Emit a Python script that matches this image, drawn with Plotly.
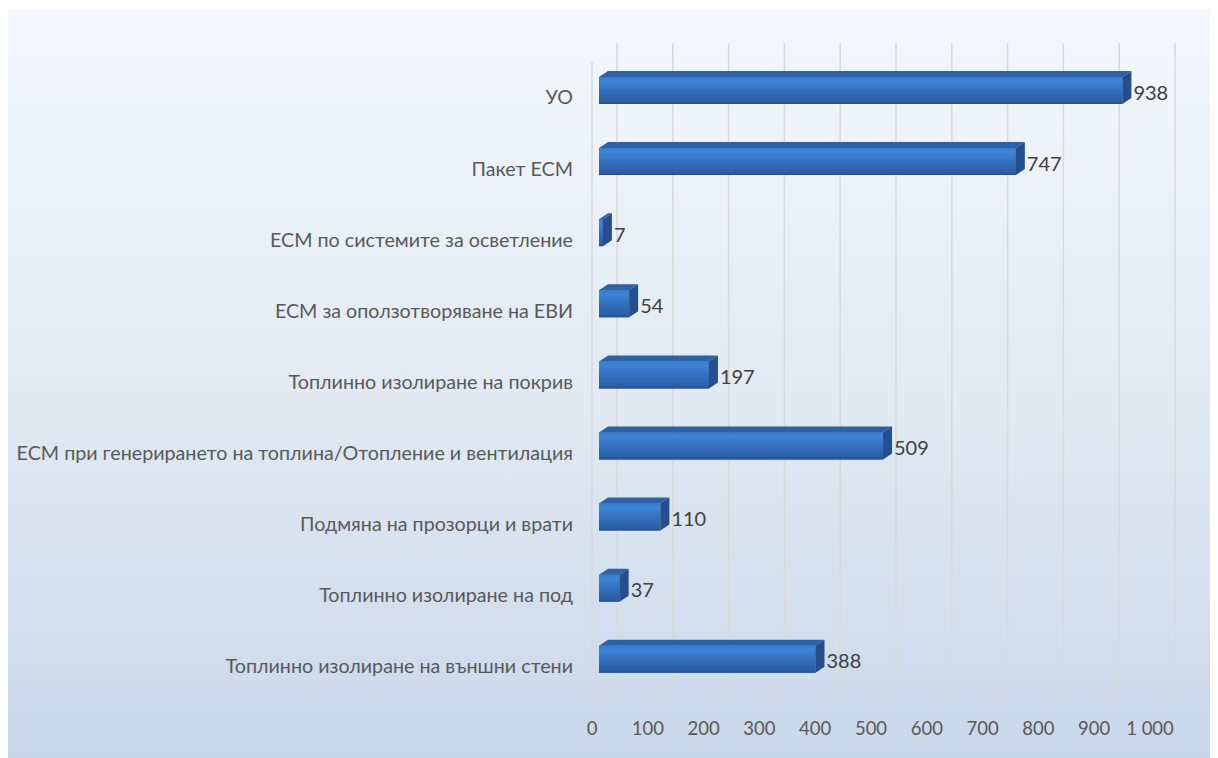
import plotly.graph_objects as go

# ---------------- data ----------------
categories = [
    "Топлинно изолиране на външни стени",
    "Топлинно изолиране на под",
    "Подмяна на прозорци и врати",
    "ЕСМ при генерирането на топлина/Отопление и вентилация",
    "Топлинно изолиране на покрив",
    "ЕСМ за оползотворяване на ЕВИ",
    "ЕСМ по системите за осветление",
    "Пакет ЕСМ",
    "УО",
]
values = [388, 37, 110, 509, 197, 54, 7, 747, 938]
tick_values = [0, 100, 200, 300, 400, 500, 600, 700, 800, 900, 1000]
tick_labels = ["0", "100", "200", "300", "400", "500", "600", "700", "800", "900", "1 000"]

# ---------------- geometry (page pixels, page offset by body margin) ----------------
OFF = 8                # body margin of the page
W, H = 1210, 750
X0_PX = 599.0 - OFF    # pixel of value 0 on bar front face
PX_PER_UNIT = 0.558    # pixels per value unit
TOP_CAT_PX = 90.5 - OFF
PX_PER_CAT = 71.1
n = len(categories)
pos = list(range(n))

plot_left, plot_right, plot_top, plot_bottom = 570, 1200, 22, 700


def xu(px):
    return px / PX_PER_UNIT


def yu(px):
    return px / PX_PER_CAT


def y_at(page_px):
    return (n - 1) + (TOP_CAT_PX - (page_px - OFF)) / PX_PER_CAT


x_range = [(plot_left - X0_PX) / PX_PER_UNIT, (plot_right - X0_PX) / PX_PER_UNIT]
y_range = [(n - 1) - (plot_bottom - TOP_CAT_PX) / PX_PER_CAT,
           (n - 1) + (TOP_CAT_PX - plot_top) / PX_PER_CAT]

FONT = "Lato, Carlito, 'Open Sans', sans-serif"
BAR_H = yu(27)
DX, DY = xu(9), yu(6)

fig = go.Figure()

# background gradient panel (own full-figure axes, drawn first)
fig.add_trace(go.Scatter(
    x=[0, W, W, 0, 0], y=[1, 1, H, H, 1], mode="lines", fill="toself",
    line=dict(width=0), hoverinfo="skip", showlegend=False,
    fillgradient=dict(type="vertical", colorscale=[[0, "#c8d8ea"], [0.5, "#e3eaf3"], [1, "#f4f8fc"]]),
    xaxis="x", yaxis="y",
))

# front faces of bars
fig.add_trace(go.Bar(
    x=values, y=pos, orientation="h", width=BAR_H,
    marker=dict(color="#3270bd", line=dict(width=0)),
    xaxis="x2", yaxis="y2", showlegend=False, hoverinfo="x+y",
))

# gradient shading on front faces
for v, p in zip(values, pos):
    fig.add_trace(go.Scatter(
        x=[0, v, v, 0, 0],
        y=[p - BAR_H / 2, p - BAR_H / 2, p + BAR_H / 2, p + BAR_H / 2, p - BAR_H / 2],
        mode="lines", fill="toself", line=dict(width=0), hoverinfo="skip", showlegend=False,
        fillgradient=dict(type="vertical",
                          colorscale=[[0, "#264f8a"], [0.1, "#2c5ea2"], [0.55, "#3572c2"],
                                      [0.85, "#3e85d8"], [1, "#3a7cca"]]),
        xaxis="x2", yaxis="y2",
    ))

# top faces
tx, ty = [], []
for v, p in zip(values, pos):
    t = p + BAR_H / 2
    tx += [0, v, v + DX, DX, 0, None]
    ty += [t, t, t + DY, t + DY, t, None]
fig.add_trace(go.Scatter(
    x=tx, y=ty, mode="lines", fill="toself", fillcolor="#2d61a8",
    line=dict(width=0), hoverinfo="skip", showlegend=False, xaxis="x2", yaxis="y2",
))

# side faces
sx, sy = [], []
for v, p in zip(values, pos):
    b, t = p - BAR_H / 2, p + BAR_H / 2
    sx += [v, v + DX, v + DX, v, v, None]
    sy += [b, b + DY, t + DY, t, b, None]
fig.add_trace(go.Scatter(
    x=sx, y=sy, mode="lines", fill="toself", fillcolor="#254f8c",
    line=dict(width=0), hoverinfo="skip", showlegend=False, xaxis="x2", yaxis="y2",
))

# value labels
fig.add_trace(go.Scatter(
    x=[v + DX + xu(2) for v in values], y=[p - yu(4) for p in pos],
    text=[str(v) for v in values], mode="text", textposition="middle right",
    textfont=dict(family=FONT, size=20, color="#404040"),
    hoverinfo="skip", showlegend=False, xaxis="x2", yaxis="y2",
))

# 3D grid: back wall verticals, floor diagonals, wall front edge
shapes = []
grid_col = "#d9d9d9"
for v in tick_values:
    shapes.append(dict(type="line", xref="x2", yref="y2", layer="below",
                       x0=v + xu(18), x1=v + xu(18), y0=y_at(683), y1=y_at(43),
                       line=dict(color=grid_col, width=1.5)))
    shapes.append(dict(type="line", xref="x2", yref="y2", layer="below",
                       x0=v + xu(18), x1=v + xu(-7), y0=y_at(683), y1=y_at(700),
                       line=dict(color="#dcdad6", width=1.2)))
shapes.append(dict(type="line", xref="x2", yref="y2", layer="below",
                   x0=xu(-7), x1=xu(-7), y0=y_at(700), y1=y_at(62),
                   line=dict(color=grid_col, width=1.5)))

fig.update_layout(
    width=W, height=H,
    margin=dict(l=0, r=0, t=0, b=0),
    paper_bgcolor="white", plot_bgcolor="rgba(0,0,0,0)",
    font=dict(family=FONT, color="#595959"),
    barmode="overlay",
    showlegend=False,
    shapes=shapes,
    xaxis=dict(domain=[0, 1], range=[0, W], visible=False, fixedrange=True),
    yaxis=dict(domain=[0, 1], range=[H, 0], visible=False, fixedrange=True),
    xaxis2=dict(
        domain=[plot_left / W, plot_right / W], range=x_range, anchor="y2",
        showgrid=False, zeroline=False, showline=False, ticks="",
        tickmode="array", tickvals=[v + xu(-7) for v in tick_values], ticktext=tick_labels,
        tickfont=dict(family=FONT, size=18.5, color="#595959"),
        ticklabelstandoff=7,
    ),
    yaxis2=dict(
        domain=[1 - plot_bottom / H, 1 - plot_top / H], range=y_range, anchor="x2",
        showgrid=False, zeroline=False, showline=False, ticks="",
        tickmode="array", tickvals=[p - yu(7) for p in pos], ticktext=categories,
        tickfont=dict(family=FONT, size=19.7, color="#595959"),
        ticklabelstandoff=4,
    ),
)

fig.write_html("out.html")
